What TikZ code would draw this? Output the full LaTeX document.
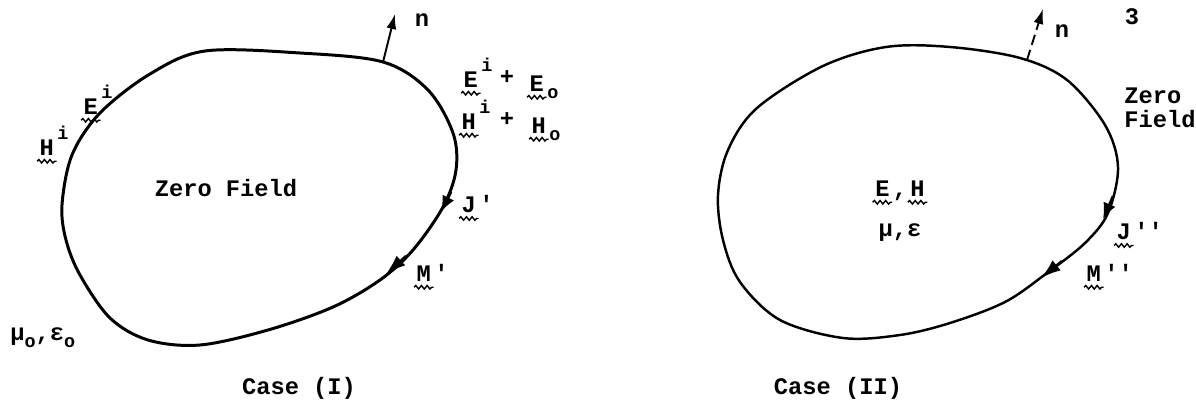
\documentclass[tikz,border=0pt]{standalone}
\usepackage{fontspec}
\setmonofont{Liberation Mono}
\usetikzlibrary{arrows.meta,decorations.pathmorphing}
\tikzset{lbl/.style={font=\ttfamily\bfseries\fontsize{13.5}{14}\selectfont,inner sep=0pt},
  bnd/.style={line width=#1,line join=round},
  nrm/.style={line width=1.1pt,-{Latex[length=3mm,width=2mm]}},
  tip/.style={-{Latex[length=#1,width=2.6mm]},line width=1.4pt}}
% wavy underline for vectors
\newcommand{\wv}[1]{\tikz[baseline=(w.base)]{\node[inner sep=0pt,outer sep=0pt] (w) {#1};
  \draw[line width=0.8pt,decorate,decoration={snake,amplitude=1pt,segment length=3.2pt}]
    ([yshift=-3pt,xshift=-1.5pt]w.south west)--([yshift=-3pt,xshift=1.5pt]w.south east);}}
\newcommand{\supx}[1]{\raisebox{1.35ex}{\fontsize{10.5}{10}\selectfont #1}}
\newcommand{\subx}[1]{\raisebox{-0.55ex}{\fontsize{10.5}{10}\selectfont #1}}

\begin{document}
\begin{tikzpicture}[x=0.02cm,y=-0.02cm]
  \useasboundingbox (0,0) rectangle (1196,401);
  % Case (I)
  \draw[bnd=1.7pt] plot[smooth cycle,tension=0.55] coordinates {
    (62,205) (72,155) (100,113) (150,74) (205,51) (300,53) (383,62) (428,90)
    (453,133) (456,170) (443,207) (413,250) (380,280) (333,307) (268,330)
    (200,345) (148,340) (110,318) (80,275) (66,240)};
  \coordinate (nb1) at (383,62);
  \coordinate (nt1) at (395,14);
  \draw[nrm] (nb1) -- (nt1);
  \coordinate (ja1) at (451,192);
  \coordinate (ja2) at (441,212);
  \draw[tip=3.2mm] (ja1) -- (ja2);
  \coordinate (ma1) at (406,256);
  \coordinate (ma2) at (386,274);
  \draw[tip=4mm] (ma1) -- (ma2);
  \node[lbl,anchor=base] (n1) at (422,27) {n};
  \node[lbl,anchor=base west] (eir) at (460,88) {\wv{E}\supx{i}};
  \node[lbl,anchor=base] (pl1) at (507,85) {+};
  \node[lbl,anchor=base west] (eo) at (526,92) {\wv{E}\subx{o}};
  \node[lbl,anchor=base west] (hir) at (458,130) {\wv{H}\supx{i}};
  \node[lbl,anchor=base] (pl2) at (507,127) {+};
  \node[lbl,anchor=base west] (ho) at (528,134) {\wv{H}\subx{o}};
  \node[lbl,anchor=base west] (eil) at (80,115) {\wv{E}\supx{i}};
  \node[lbl,anchor=base west] (hil) at (36,156) {\wv{H}\supx{i}};
  \node[lbl,anchor=base] (zf1) at (226,197) {Zero Field};
  \node[lbl,anchor=base west] (j1) at (458,213) {\wv{J}'};
  \node[lbl,anchor=base west] (m1) at (413,282) {\wv{M}'};
  \node[lbl,anchor=base west] (mu1) at (10,341) {μ\subx{o},ε\subx{o}};
  \node[lbl,anchor=base] (c1) at (299,395) {Case (I)};
  % Case (II)
  \draw[bnd=1.4pt] plot[smooth cycle,tension=0.55] coordinates {
    (718,195) (728,150) (757,108) (823,66) (886,47) (950,47) (1020,58) (1067,80)
    (1105,125) (1118,167) (1108,213) (1085,243) (1047,273) (1005,302) (950,323)
    (900,335) (843,338) (780,320) (740,282) (723,240)};
  \coordinate (nb2) at (1027,60);
  \coordinate (nt2) at (1043,9);
  \draw[nrm,dashed,dash pattern=on 6pt off 3pt] (nb2) -- (nt2);
  \coordinate (jb1) at (1113,196);
  \coordinate (jb2) at (1103,219);
  \draw[tip=3.2mm] (jb1) -- (jb2);
  \coordinate (mb1) at (1062,261);
  \coordinate (mb2) at (1041,278);
  \draw[tip=4mm] (mb1) -- (mb2);
  \node[lbl,anchor=base] (n2) at (1062,38) {n};
  \node[lbl,anchor=base] (pg) at (1132,25) {3};
  \node[lbl,anchor=base west,align=left] (zf2) at (1124,128) {Zero\\Field};
  \node[lbl,anchor=base] (eh) at (900,197) {\wv{E},\wv{H}};
  \node[lbl,anchor=base] (mu2) at (900,237) {μ,ε};
  \node[lbl,anchor=base west] (j2) at (1113,240) {\wv{J}''};
  \node[lbl,anchor=base west] (m2) at (1083,282) {\wv{M}''};
  \node[lbl,anchor=base] (c2) at (838,395) {Case (II)};
\end{tikzpicture}
\end{document}
